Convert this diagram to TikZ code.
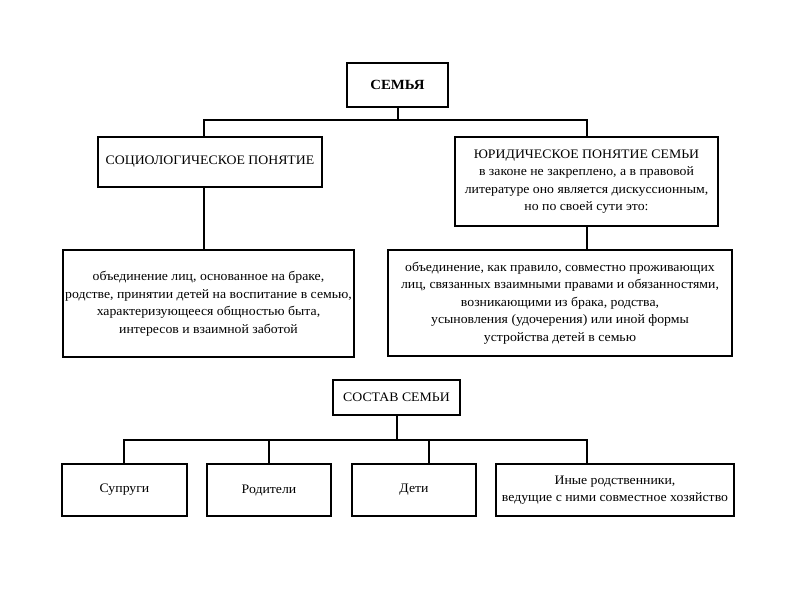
\documentclass[tikz,border=0pt]{standalone}
\usepackage{fontspec}
\setmainfont{Liberation Serif}[FakeStretch=1.06]
\begin{document}
\begin{tikzpicture}[x=1pt,y=-1pt,
  box/.style={draw=black,line width=1.3pt,align=center,inner sep=0pt,
    font=\fontsize{13}{17.5}\selectfont},
  conn/.style={draw=black,line width=1.3pt}]
\useasboundingbox[fill=white] (0,0) rectangle (800,600);
% top level
\node[box,minimum width=101pt,minimum height=44pt,font=\fontsize{14}{17}\selectfont\bfseries] (semya) at (397.5,85) {СЕМЬЯ};
\node[box,minimum width=224pt,minimum height=50pt] (soc) at (210,162) {СОЦИОЛОГИЧЕСКОЕ ПОНЯТИЕ};
\node[box,minimum width=263pt,minimum height=89pt] (jur) at (586.5,181.5) {ЮРИДИЧЕСКОЕ ПОНЯТИЕ СЕМЬИ\\в законе не закреплено, а в правовой\\литературе оно является дискуссионным,\\но по своей сути это:};
\node[box,minimum width=291pt,minimum height=107pt] (socdef) at (208.5,303.5) {объединение лиц, основанное на браке,\\родстве, принятии детей на воспитание в семью,\\характеризующееся общностью быта,\\интересов и взаимной заботой};
\node[box,minimum width=344pt,minimum height=106pt] (jurdef) at (560,303) {объединение, как правило, совместно проживающих\\лиц, связанных взаимными правами и обязанностями,\\возникающими из брака, родства,\\усыновления (удочерения) или иной формы\\устройства детей в семью};
% composition
\node[box,minimum width=127pt,minimum height=35pt] (sostav) at (396.5,397.5) {СОСТАВ СЕМЬИ};
\node[box,minimum width=125pt,minimum height=52pt] (sup) at (124.5,490) {Супруги};
\node[box,minimum width=124pt,minimum height=52pt] (rod) at (269,490) {Родители};
\node[box,minimum width=124pt,minimum height=52pt] (deti) at (414,490) {Дети};
\node[box,minimum width=238pt,minimum height=52pt] (inye) at (615,490) {Иные родственники,\\ведущие с ними совместное хозяйство};
% bus coordinates
\coordinate (stemTop) at (398,120);
\coordinate (busL) at (204,120);
\coordinate (busR) at (587,120);
\coordinate (stemBot) at (397,440);
\coordinate (busA) at (124,440);
\coordinate (busB) at (269,440);
\coordinate (busC) at (429,440);
\coordinate (busD) at (587,440);
% connectors
\draw[conn] (semya.south -| stemTop) -- (stemTop);
\draw[conn] (soc.north -| busL) -- (busL) -- (busR) -- (jur.north -| busR);
\draw[conn] (soc.south -| busL) -- (socdef.north -| busL);
\draw[conn] (jur.south -| busR) -- (jurdef.north -| busR);
\draw[conn] (sostav.south -| stemBot) -- (stemBot);
\draw[conn] (sup.north -| busA) -- (busA) -- (busD) -- (inye.north -| busD);
\draw[conn] (busB) -- (rod.north -| busB);
\draw[conn] (busC) -- (deti.north -| busC);
\end{tikzpicture}
\end{document}
